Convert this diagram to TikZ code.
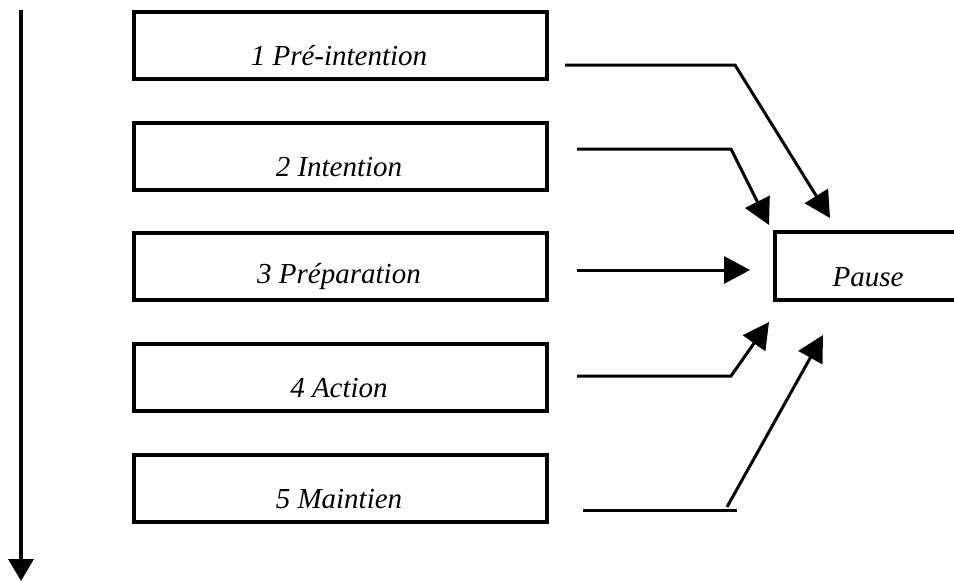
\documentclass[tikz,border=0pt]{standalone}
\usepackage{fontspec}
\setmainfont{Liberation Serif}
\usetikzlibrary{arrows.meta}
\tikzset{
  stagebox/.style={draw, line width=4pt, minimum width=413pt, minimum height=67pt, inner sep=0pt},
  pausebox/.style={draw, line width=4pt, minimum width=195pt, minimum height=68pt, inner sep=0pt},
  lbl/.style={font=\fontsize{29}{33}\selectfont\itshape, inner sep=0pt},
  conn/.style={line width=3pt, -{Triangle[length=26pt,width=27pt]}},
  seg/.style={line width=3pt}
}
\begin{document}
\begin{tikzpicture}[x=1pt,y=-1pt]
\clip (0,0) rectangle (954,581);
\fill[white] (0,0) rectangle (954,581);
% time axis
\coordinate (ta) at (21,10);
\coordinate (tb) at (21,581);
\draw[line width=3.5pt, -{Triangle[length=22pt,width=25pt]}] (ta) -- (tb);
% stage boxes
\node[stagebox] (b1) at (340.5,45.5) {};
\node[stagebox] (b2) at (340.5,156) {};
\node[stagebox] (b3) at (340.5,266) {};
\node[stagebox] (b4) at (340.5,377.5) {};
\node[stagebox] (b5) at (340.5,488) {};
\node[lbl] (t1) at (339,56) {1 Pré-intention};
\node[lbl] (t2) at (339,167) {2 Intention};
\node[lbl] (t3) at (339,277) {3 Préparation};
\node[lbl] (t4) at (339,388) {4 Action};
\node[lbl] (t5) at (339,499) {5 Maintien};
% pause box (right side runs off the page)
\node[pausebox] (p) at (872.5,266) {};
\node[lbl] (pt) at (868,277) {Pause};
% connectors
\coordinate (s1) at (565,65);  \coordinate (k1) at (735,65);  \coordinate (e1) at (830,218);
\coordinate (s2) at (577,149); \coordinate (k2) at (731,149); \coordinate (e2) at (769,225);
\coordinate (s3) at (577,270); \coordinate (e3) at (750,270);
\coordinate (s4) at (577,376); \coordinate (k4) at (731,376); \coordinate (e4) at (769,322);
\coordinate (s5) at (583,510); \coordinate (k5) at (737,510);
\coordinate (d5) at (727,507); \coordinate (e5) at (823,335);
\draw[conn] (s1) -- (k1) -- (e1);
\draw[conn] (s2) -- (k2) -- (e2);
\draw[conn] (s3) -- (e3);
\draw[conn] (s4) -- (k4) -- (e4);
\draw[seg] (s5) -- (k5);
\draw[conn] (d5) -- (e5);
\end{tikzpicture}
\end{document}
